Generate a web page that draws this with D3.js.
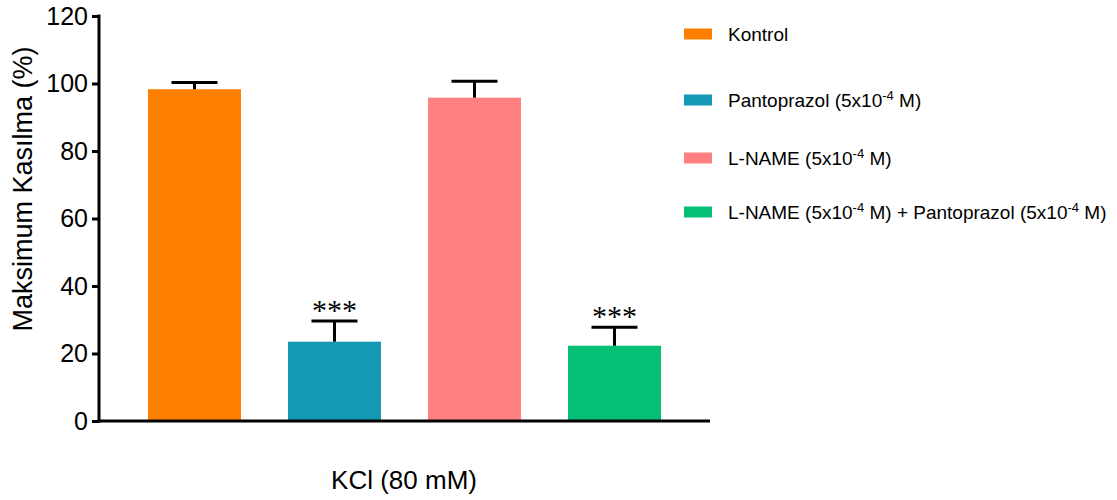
<!DOCTYPE html>
<html>
<head>
<meta charset="utf-8">
<script src="https://cdn.jsdelivr.net/npm/d3@7/dist/d3.min.js"></script>
<style>
	body { margin: 0; background: #fff; }
	svg { display: block; font-family: "Liberation Sans", Arial, sans-serif; }
</style>
</head>
<body>
<div id="chart"></div>
<script>
// group names, means and SEM
const groups = [
	'Kontrol',
	'Pantoprazol (5x10^-4 M)',
	'L-NAME (5x10^-4 M)',
	'L-NAME (5x10^-4 M) + Pantoprazol (5x10^-4 M)'
];
const means = [98.3, 23.5, 95.8, 22.3];
const errors = [2.0, 6.1, 4.9, 5.5];
const stars = ['', '***', '', '***'];
const colors = ['#ff8000', '#1598b4', '#ff8080', '#05bf76'];
const yTicks = [0, 20, 40, 60, 80, 100, 120];

const width = 1117;
const height = 500;

const svg = d3
	.select('#chart')
	.append('svg')
	.attr('width', width)
	.attr('height', height);

const x = d3
	.scaleBand()
	.domain(groups)
	.range([99, 710])
	.paddingInner(0.336)
	.paddingOuter(0.35);

const y = d3.scaleLinear().domain([0, 120]).range([421, 16]);

// bars
svg.append('g')
	.selectAll('rect')
	.data(groups)
	.enter()
	.append('rect')
	.attr('x', d => x(d))
	.attr('y', (d, i) => y(means[i]))
	.attr('width', x.bandwidth())
	.attr('height', (d, i) => y(0) - y(means[i]))
	.attr('fill', (d, i) => colors[i]);

// error bars (upper only)
const err = svg.append('g').attr('stroke', '#000').attr('stroke-width', 3);
groups.forEach((g, i) => {
	const cx = x(g) + x.bandwidth() / 2;
	const top = y(means[i] + errors[i]);
	err.append('line')
		.attr('x1', cx).attr('x2', cx)
		.attr('y1', y(means[i])).attr('y2', top);
	err.append('line')
		.attr('x1', cx - 23).attr('x2', cx + 23)
		.attr('y1', top).attr('y2', top);
	if (stars[i]) {
		svg.append('text')
			.attr('x', cx)
			.attr('y', top - 1)
			.attr('text-anchor', 'middle')
			.attr('font-family', '"Liberation Serif", "Times New Roman", serif')
			.attr('font-size', 30)
			.text(stars[i]);
	}
});

// y axis
const yAxis = svg
	.append('g')
	.attr('transform', 'translate(99,0)')
	.call(d3.axisLeft(y).tickValues(yTicks).tickSize(7).tickPadding(4).tickSizeOuter(0));
yAxis.select('.domain').remove();
yAxis.selectAll('.tick line').attr('stroke', '#000').attr('stroke-width', 3);
yAxis.selectAll('.tick text')
	.attr('font-family', '"Liberation Sans", Arial, sans-serif')
	.attr('font-size', 25)
	.attr('fill', '#000');

const axes = svg.append('g').attr('stroke', '#000').attr('stroke-width', 3).attr('fill', 'none');
axes.append('line')
	.attr('x1', 99).attr('x2', 99)
	.attr('y1', y(120) - 1.5).attr('y2', y(0) + 1.5);
axes.append('line')
	.attr('x1', 97.5).attr('x2', 710)
	.attr('y1', y(0)).attr('y2', y(0));

// axis titles
svg.append('text')
	.attr('transform', 'translate(32,189) rotate(-90)')
	.attr('text-anchor', 'middle')
	.attr('font-size', 27)
	.text('Maksimum Kasılma (%)');

svg.append('text')
	.attr('x', 404)
	.attr('y', 489)
	.attr('text-anchor', 'middle')
	.attr('font-size', 26)
	.text('KCl (80 mM)');

// legend
const legendRowY = [34, 100, 158, 212];
const legend = svg.append('g');
groups.forEach((g, i) => {
	const ly = legendRowY[i];
	legend.append('rect')
		.attr('x', 684)
		.attr('y', ly - 5.5)
		.attr('width', 28)
		.attr('height', 11)
		.attr('fill', colors[i]);
	const t = legend.append('text')
		.attr('x', 728)
		.attr('y', ly + 7)
		.attr('font-size', 19);
	// "^-4" becomes a raised tspan, the next part drops back down
	let raised = false;
	g.split(/(\^-4)/).forEach(part => {
		if (part === '^-4') {
			t.append('tspan')
				.attr('font-size', 13)
				.attr('dy', -7)
				.text('-4');
			raised = true;
		} else if (part) {
			const s = t.append('tspan').text(part);
			if (raised) {
				s.attr('dy', 7);
				raised = false;
			}
		}
	});
});
</script>
</body>
</html>
